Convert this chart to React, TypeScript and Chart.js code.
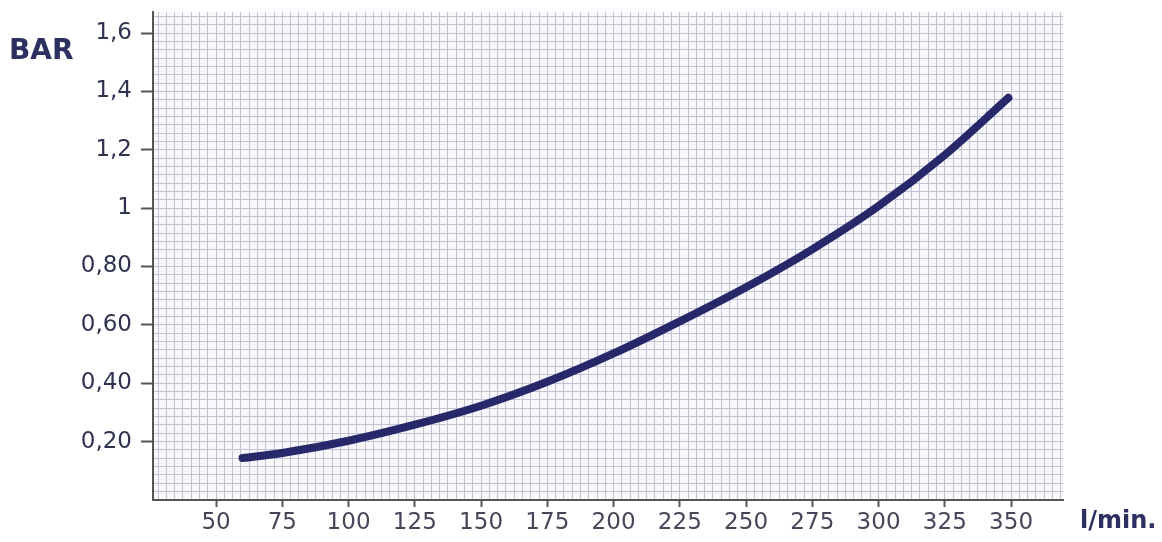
import React, { useEffect, useRef } from "react";
import { Chart, registerables } from "chart.js";

Chart.register(...registerables);

// Data (flow l/min vs pressure BAR)
const FLOW = [60, 75, 100, 125, 150, 175, 200, 225, 250, 275, 300, 325, 349];
const PRESSURE = [0.144, 0.161, 0.203, 0.258, 0.323, 0.405, 0.502, 0.612, 0.729, 0.859, 1.007, 1.182, 1.378];

const X_TICKS = [50, 75, 100, 125, 150, 175, 200, 225, 250, 275, 300, 325, 350];
const Y_TICKS = [0.2, 0.4, 0.6, 0.8, 1, 1.2, 1.4, 1.6];
const Y_TICK_LABELS = ["0,20", "0,40", "0,60", "0,80", "1", "1,2", "1,4", "1,6"];

const X_MIN = 26.2;
const X_MAX = 369.6;
const Y_MIN = 0;
const Y_MAX = 1.672;
const X_MINOR_STEP = 25 / 8;
const Y_MINOR_STEP = 0.2 / 7;

const Y_TITLE = "BAR";
const X_TITLE = "l/min.";

const findIdx = (arr: number[], v: number) => arr.findIndex((a) => Math.abs(a - v) < 1e-6);

const titlesPlugin = {
  id: "axisTitles",
  afterDraw(chart: any) {
    const ctx = chart.ctx;
    ctx.save();
    ctx.fillStyle = "#2b3060";
    ctx.font = "bold 28px 'DejaVu Sans'";
    ctx.textBaseline = "middle";
    ctx.textAlign = "left";
    ctx.fillText(Y_TITLE, 9, 52);
    ctx.font = "bold 24px 'DejaVu Sans'";
    ctx.textBaseline = "alphabetic";
    ctx.fillText(X_TITLE, 1080, 528);
    ctx.restore();
  },
};

const bgPlugin = {
  id: "plotBg",
  beforeDraw(chart: any) {
    const { ctx, chartArea } = chart;
    ctx.save();
    ctx.fillStyle = "#f7f7fc";
    ctx.fillRect(chartArea.left, chartArea.top, chartArea.right - chartArea.left, chartArea.bottom - chartArea.top);
    ctx.restore();
  },
};

export default function App() {
  const ref = useRef<HTMLCanvasElement | null>(null);

  useEffect(() => {
    if (!ref.current) return;
    const chart = new Chart(ref.current, {
      type: "line",
      data: {
        datasets: [
          {
            data: FLOW.map((x, i) => ({ x, y: PRESSURE[i] })),
            borderColor: "#27286a",
            borderWidth: 8,
            borderCapStyle: "round",
            pointRadius: 0,
            tension: 0.4,
            cubicInterpolationMode: "monotone",
            fill: false,
          },
        ],
      },
      options: {
        animation: false,
        responsive: false,
        layout: { padding: { top: 12, right: 99, left: 0, bottom: 0 } },
        plugins: { legend: { display: false }, tooltip: { enabled: false } },
        scales: {
          x: {
            type: "linear",
            min: X_MIN,
            max: X_MAX,
            afterBuildTicks: (scale: any) => {
              const ticks: any[] = [];
              let start = X_TICKS[0];
              while (start - X_MINOR_STEP >= scale.min) start -= X_MINOR_STEP;
              for (let v = start; v <= scale.max + 1e-9; v += X_MINOR_STEP) ticks.push({ value: v });
              scale.ticks = ticks;
            },
            afterFit: (scale: any) => {
              scale.height = 42;
              scale.paddingLeft = 0;
              scale.paddingRight = 0;
            },
            grid: {
              color: "#c2c2d2",
              lineWidth: 1,
              tickLength: 7,
              tickWidth: 2,
              tickColor: (c: any) => (c.tick && findIdx(X_TICKS, c.tick.value) >= 0 ? "#555" : "rgba(0,0,0,0)"),
            },
            border: { color: "#555", width: 2 },
            ticks: {
              autoSkip: false,
              maxRotation: 0,
              padding: 2,
              color: "#46465a",
              font: { family: "'DejaVu Sans'", size: 23 },
              callback: (v: any) => {
                const i = findIdx(X_TICKS, Number(v));
                return i >= 0 ? String(X_TICKS[i]) : "";
              },
            },
          },
          y: {
            type: "linear",
            min: Y_MIN,
            max: Y_MAX,
            afterBuildTicks: (scale: any) => {
              const ticks: any[] = [];
              for (let i = 0; i * Y_MINOR_STEP <= scale.max + 1e-9; i++) ticks.push({ value: i * Y_MINOR_STEP });
              scale.ticks = ticks;
            },
            afterFit: (scale: any) => {
              scale.width = 153;
              scale.paddingTop = 0;
              scale.paddingBottom = 0;
            },
            grid: {
              color: "#c2c2d2",
              lineWidth: 1,
              tickLength: 12,
              tickWidth: 2,
              tickColor: (c: any) => (c.tick && findIdx(Y_TICKS, c.tick.value) >= 0 ? "#555" : "rgba(0,0,0,0)"),
            },
            border: { color: "#555", width: 2 },
            ticks: {
              autoSkip: false,
              padding: 9,
              color: "#30334f",
              font: { family: "'DejaVu Sans'", size: 23 },
              callback: (v: any) => {
                const i = findIdx(Y_TICKS, Number(v));
                return i >= 0 ? Y_TICK_LABELS[i] : "";
              },
            },
          },
        },
      },
      plugins: [bgPlugin, titlesPlugin],
    } as any);
    return () => chart.destroy();
  }, []);

  return (
    <div style={{ position: "absolute", left: 0, top: 0, width: 1162, height: 542, background: "#fff" }}>
      <canvas ref={ref} width={1162} height={542} style={{ display: "block", width: 1162, height: 542 }} />
    </div>
  );
}
